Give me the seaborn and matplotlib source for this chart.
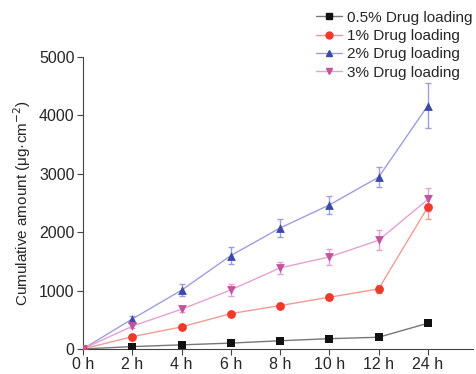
import numpy as np
import pandas as pd
import seaborn as sns
import matplotlib.pyplot as plt
from matplotlib.lines import Line2D

times = ["0 h", "2 h", "4 h", "6 h", "8 h", "10 h", "12 h", "24 h"]
groups = ["0.5% Drug loading", "1% Drug loading", "2% Drug loading", "3% Drug loading"]

mean_05 = [0, 40, 70, 100, 140, 176, 200, 440]
mean_1 = [0, 210, 377, 605, 742, 885, 1027, 2430]
mean_2 = [0, 513, 1005, 1598, 2070, 2465, 2940, 4166]
mean_3 = [0, 389, 680, 1010, 1387, 1575, 1860, 2560]

sd_05 = [0, 10, 12, 15, 15, 18, 20, 25]
sd_1 = [0, 25, 30, 35, 40, 45, 70, 200]
sd_2 = [0, 50, 100, 140, 150, 160, 175, 385]
sd_3 = [0, 30, 50, 100, 100, 140, 170, 200]

marker_colors = ["#111111", "#f2382a", "#3b4aa6", "#c2549e"]
line_colors = ["#777777", "#f49a94", "#9c9fdc", "#e3a2d2"]
markers = ["s", "o", "^", "v"]

rows = []
for g, m, s in zip(groups, [mean_05, mean_1, mean_2, mean_3], [sd_05, sd_1, sd_2, sd_3]):
    for i, t in enumerate(times):
        rows.append({"group": g, "time": t, "pos": i, "mean": m[i], "sd": s[i]})
df = pd.DataFrame(rows)

sns.set_style("ticks")
plt.rcParams["font.family"] = ["Liberation Sans", "DejaVu Sans"]

fig = plt.figure(figsize=(4.77, 3.74), dpi=100)
ax = fig.add_axes([0.174, 0.067, 0.818, 0.781])

for g, mc, lc, mk in zip(groups, marker_colors, line_colors, markers):
    d = df[df["group"] == g]
    ax.errorbar(d["pos"], d["mean"], yerr=d["sd"], fmt="none", ecolor=lc,
                elinewidth=1.0, capsize=2.5, capthick=1.0, zorder=2)
    sns.lineplot(data=d, x="pos", y="mean", color=lc, linewidth=1.0, ax=ax, zorder=3)
    sns.scatterplot(data=d, x="pos", y="mean", color=mc, marker=mk, s=40,
                    edgecolor=mc, linewidth=0, ax=ax, zorder=4)

ax.set_xlim(0, 7.92)
ax.set_ylim(0, 5000)
ax.set_xticks(range(len(times)))
ax.set_xticklabels(times)
ax.set_yticks([0, 1000, 2000, 3000, 4000, 5000])
ax.tick_params(labelsize=11.5, length=4, width=0.8, color="#444444", pad=2)
ax.set_xlabel("")
ax.set_ylabel("Cumulative amount (μg·cm$^{-2}$)", fontsize=11, labelpad=4)
for sp in ["left", "bottom"]:
    ax.spines[sp].set_color("#444444")
    ax.spines[sp].set_linewidth(0.8)
sns.despine(ax=ax)

handles = [Line2D([0], [0], color=lc, lw=1.0, marker=mk, markersize=5,
                  markerfacecolor=mc, markeredgecolor=mc)
           for mc, lc, mk in zip(marker_colors, line_colors, markers)]
fig.legend(handles, groups, loc="upper left", bbox_to_anchor=(0.64, 1.0),
           frameon=False, fontsize=11, handlelength=1.7, handletextpad=0.3,
           labelspacing=0.28, borderpad=0.2)

fig.savefig("out.png", dpi=100)
